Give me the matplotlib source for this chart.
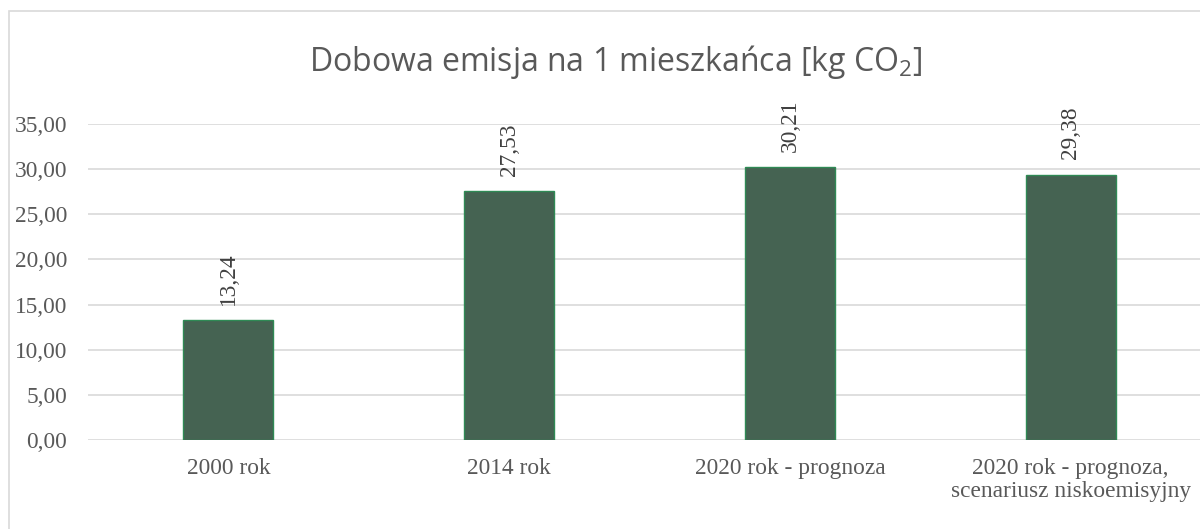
import matplotlib
matplotlib.use("Agg")
import matplotlib.pyplot as plt
from matplotlib.patches import Rectangle

categories = ["2000 rok", "2014 rok", "2020 rok - prognoza",
              "2020 rok - prognoza,\nscenariusz niskoemisyjny"]
values = [13.24, 27.53, 30.21, 29.38]
yticks = [0, 5, 10, 15, 20, 25, 30, 35]

plt.rcParams["mathtext.fontset"] = "custom"
plt.rcParams["mathtext.rm"] = "Open Sans"

W, H = 1200, 529
fig = plt.figure(figsize=(W / 100, H / 100), dpi=100)
fig.patch.set_facecolor("white")

# outer chart frame
fig.add_artist(Rectangle((9 / W, 0 - 0.01), 1.1, 1 - 11 / H + 0.01,
                         transform=fig.transFigure, fill=False,
                         edgecolor="#d9d9d9", linewidth=1.2))

left, right = 88, 1211
bottom, top = 440, 124
ax = fig.add_axes([left / W, 1 - bottom / H, (right - left) / W, (bottom - top) / H])
ax.set_xlim(-0.5, len(values) - 0.5)
ax.set_ylim(0, 35)

x = range(len(values))
ax.bar(x, values, width=0.32, color="#456352", edgecolor="#2f8a55",
       linewidth=1.0, zorder=3)

serif = "Liberation Serif"
fs = 16.8
for xi, v in zip(x, values):
    ax.annotate(f"{v:.2f}".replace(".", ","), (xi, v), xytext=(0, 11),
                textcoords="offset points", rotation=90, ha="center",
                va="bottom", fontsize=fs, family=serif, color="#404040")

ax.set_yticks(yticks)
ax.set_yticklabels([f"{t:.2f}".replace(".", ",") for t in yticks],
                   family=serif, fontsize=fs, color="#595959")
ax.set_xticks(list(x))
ax.set_xticklabels(categories, family=serif, fontsize=fs,
                   color="#595959", linespacing=1.15, va="top")
ax.tick_params(axis="both", length=0)
ax.tick_params(axis="y", pad=15)
ax.tick_params(axis="x", pad=13)
ax.grid(axis="y", color="#d9d9d9", linewidth=1.2, zorder=0)
for s in ax.spines.values():
    s.set_visible(False)

fig.text(616 / W, 1 - 62 / H, r"Dobowa emisja na 1 mieszkańca [kg CO$\mathregular{_2}$]",
         ha="center", va="center", fontsize=23, family="Open Sans",
         color="#595959")

fig.savefig("out.png", dpi=100)
